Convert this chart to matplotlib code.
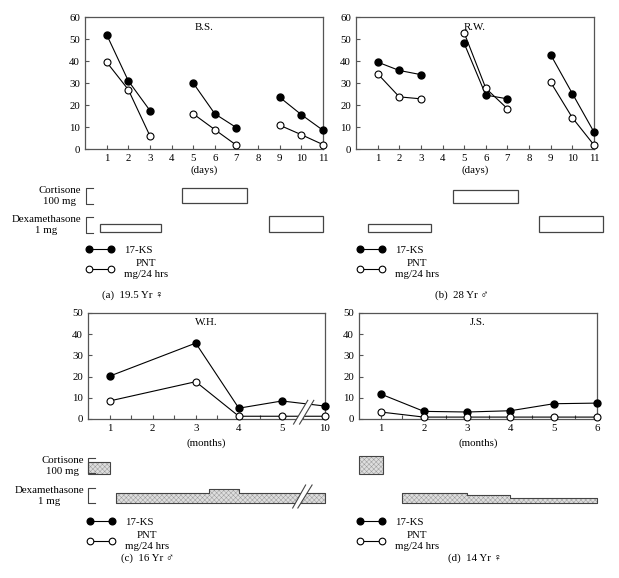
import numpy as np
import matplotlib
matplotlib.use('Agg')
import matplotlib.pyplot as plt
import matplotlib.transforms as mtrans
from matplotlib.patches import Polygon

plt.rcParams['font.family'] = ['Liberation Serif', 'DejaVu Serif']
plt.rcParams['font.size'] = 7.8
plt.rcParams['hatch.linewidth'] = 0.35

W, H = 619, 578
nan = np.nan

# top panels: days 1-11 (no samples on days 4 and 8)
days = np.arange(1, 12)
bs_ks = [52, 31, 17.5, nan, 30, 16, 9.7, nan, 23.5, 15.6, 8.5]
bs_pnt = [39.5, 27, 6, nan, 16, 8.8, 1.7, nan, 10.8, 6.5, 2]
rw_ks = [39.5, 35.7, 33.8, nan, 48, 24.5, 22.8, nan, 42.8, 25.2, 7.7]
rw_pnt = [34.2, 23.7, 22.8, nan, 52.8, 27.6, 18.3, nan, 30.3, 14.2, 1.8]

# bottom panels: months (month 10 of W.H. sits at slot 6, after the break)
month_slots = [1, 2, 3, 4, 5, 6]
wh_labels = ['1', '2', '3', '4', '5', '10']
js_labels = ['1', '2', '3', '4', '5', '6']
wh_x = [1, 3, 4, 5, 6]
wh_ks = [20.2, 35.8, 5.1, 8.5, 6.1]
wh_pnt = [8.5, 17.6, 1.3, 1.3, 1.3]
js_ks = [11.8, 3.6, 3.3, 3.9, 7.2, 7.5]
js_pnt = [3.3, 0.9, 0.9, 0.9, 0.9, 0.9]

# treatment periods (start, end) on the x scale of each panel
bs_cort = [(4.5, 7.5)]
bs_dex = [(0.7, 3.5), (8.5, 11.0)]
rw_cort = [(4.5, 7.5)]
rw_dex = [(0.55, 3.45), (8.45, 11.4)]
wh_cort = [(0.5, 1.0)]
wh_dex_edges = [1.15, 3.3, 4.0, 6.0]
wh_dex_level = [1.0, 1.4, 1.0]
js_cort = [(0.5, 1.05)]
js_dex_edges = [1.5, 3.0, 4.0, 6.0]
js_dex_level = [1.0, 0.8, 0.5]
wh_break = 5.5


def box(l, t, r, b):
    return [l / W, 1 - b / H, (r - l) / W, (b - t) / H]


def fx(x):
    return x / W


def fy(y):
    return 1 - y / H


fig = plt.figure(figsize=(W / 100, H / 100), dpi=100)

spine_c = '#555555'
edge_c = '#444444'
fill_c = '#dedede'
hatch_c = '#9a9a9a'


def style_axes(ax):
    for s in ax.spines.values():
        s.set_color(spine_c)
        s.set_linewidth(0.9)
    ax.tick_params(which='both', direction='in', color=spine_c, width=0.8, pad=3.5,
                   length=3, labelsize=7.8)


def draw_series(ax, x, ks, pnt):
    l1, = ax.plot(x, ks, '-o', color='k', lw=0.8, ms=5, mfc='k', mec='k',
                  clip_on=False, zorder=4)
    l2, = ax.plot(x, pnt, '-o', color='k', lw=0.8, ms=5, mfc='white', mec='k',
                  mew=0.8, clip_on=False, zorder=4)
    return l1, l2


def add_legend(ax, handles, left, top):
    leg = ax.legend(handles, ['17-KS', 'PNT\nmg/24 hrs'], loc='upper left',
                    bbox_to_anchor=(fx(left), fy(top)), bbox_transform=fig.transFigure,
                    frameon=False, numpoints=2, handlelength=2.6, handletextpad=0.9,
                    labelspacing=0.45, borderpad=0, borderaxespad=0, fontsize=7.8)
    for t in leg.get_texts():
        t.set_multialignment('center')
        t.set_linespacing(1.25)
    for h in leg.legend_handles:
        h.set_markersize(4.8)


def bracket(tax, x0, x1, y0, y1):
    tr = mtrans.blended_transform_factory(fig.transFigure, tax.transData)
    tax.plot([fx(x1), fx(x0), fx(x0), fx(x1)], [y1, y1, y0, y0], color=edge_c,
             lw=0.8, transform=tr, clip_on=False)


def drug_labels(right, y_cort, y_dex):
    fig.text(fx(right), fy(y_cort), 'Cortisone\n100 mg', ha='right', va='center',
             multialignment='center', linespacing=1.25)
    fig.text(fx(right), fy(y_dex), 'Dexamethasone\n1 mg', ha='right', va='center',
             multialignment='center', linespacing=1.25)


# ---------- (a) and (b): days ----------
top_panels = [
    (85, 323, 'B.S.', bs_ks, bs_pnt, bs_cort, bs_dex, 15, [8, 16], 133, '(a)  19.5 Yr \u2640'),
    (356, 594, 'R.W.', rw_ks, rw_pnt, rw_cort, rw_dex, 13, [8, 16], 462, '(b)  28 Yr \u2642'),
]
for i, (l, r, name, ks, pnt, cort, dex, cort_h, dex_h, cap_x, cap) in enumerate(top_panels):
    ax = fig.add_axes(box(l, 17, r, 149))
    style_axes(ax)
    ax.set_xlim(0, 11)
    ax.set_ylim(0, 60)
    ax.set_xticks(days)
    ax.set_yticks(np.arange(0, 61, 10))
    ax.set_xlabel('(days)', labelpad=1.5)
    ax.text(0.5, 0.917, name, transform=ax.transAxes, ha='center', va='center')
    handles = draw_series(ax, days, ks, pnt)

    tax = fig.add_axes(box(l, 180, r, 240))
    tax.set_xlim(0, 11)
    tax.set_ylim(0, 60)
    tax.axis('off')
    for (s, e) in cort:
        tax.bar(s, cort_h, width=e - s, bottom=37, align='edge', fill=False,
                edgecolor=edge_c, lw=0.9, clip_on=False)
    for (s, e), h in zip(dex, dex_h):
        tax.bar(s, h, width=e - s, bottom=8, align='edge', fill=False,
                edgecolor=edge_c, lw=0.9, clip_on=False)
    if i == 0:
        bracket(tax, 86, 93, 36, 52)
        bracket(tax, 86, 93, 7, 23)
        drug_labels(81, 196, 225)
    add_legend(ax, handles, l + 1, 245)
    fig.text(fx(cap_x), fy(295), cap, ha='center', va='center')

# ---------- (c) and (d): months ----------
bottom_panels = [
    (88, 325, 'W.H.', wh_x, wh_ks, wh_pnt, wh_labels, wh_cort, 12, wh_dex_edges,
     wh_dex_level, 148, '(c)  16 Yr \u2642'),
    (359, 597, 'J.S.', month_slots, js_ks, js_pnt, js_labels, js_cort, 18, js_dex_edges,
     js_dex_level, 475, '(d)  14 Yr \u2640'),
]
for i, (l, r, name, x, ks, pnt, labels, cort, cort_h, edges, level, cap_x, cap) in enumerate(bottom_panels):
    ax = fig.add_axes(box(l, 313, r, 419))
    style_axes(ax)
    ax.set_xlim(0.5, 6)
    ax.set_ylim(0, 50)
    ax.set_xticks(month_slots)
    ax.set_xticklabels(labels)
    ax.set_xticks(np.arange(1.5, 6, 1), minor=True)
    ax.set_yticks(np.arange(0, 51, 10))
    ax.set_xlabel('(months)', labelpad=4)
    ax.text(0.5, 0.915, name, transform=ax.transAxes, ha='center', va='center')
    handles = draw_series(ax, x, ks, pnt)

    tax = fig.add_axes(box(l, 450, r, 510))
    tax.set_xlim(0.5, 6)
    tax.set_ylim(0, 60)
    tax.axis('off')
    for (s, e) in cort:
        tax.bar(s, cort_h, width=e - s, bottom=36, align='edge', facecolor=fill_c,
                edgecolor=hatch_c, hatch='xxxxxxx', lw=0, clip_on=False)
        tax.bar(s, cort_h, width=e - s, bottom=36, align='edge', fill=False,
                edgecolor=edge_c, lw=0.8, clip_on=False)
    tops = [7 + 10 * v for v in level]
    tops = tops + [tops[-1]]
    tax.fill_between(edges, 7, tops, step='post', facecolor=fill_c,
                     edgecolor=hatch_c, hatch='xxxxxxx', lw=0, clip_on=False)
    tax.fill_between(edges, 7, tops, step='post', facecolor='none',
                     edgecolor=edge_c, lw=0.8, clip_on=False)

    if i == 0:
        bracket(tax, 88, 95, 37, 52)
        bracket(tax, 88, 95, 7, 22)
        drug_labels(84, 466, 496)
        # axis break on the time scale
        b = wh_break
        ax.add_patch(Polygon([(b - 0.23, -2.4), (b - 0.09, -2.4), (b + 0.24, 8.8), (b + 0.1, 8.8)],
                             closed=True, fc='white', ec='none', clip_on=False, zorder=6))
        ax.plot([b - 0.23, b + 0.1], [-2.4, 8.8], color=edge_c, lw=0.8, clip_on=False, zorder=7)
        ax.plot([b - 0.09, b + 0.24], [-2.4, 8.8], color=edge_c, lw=0.8, clip_on=False, zorder=7)
        tax.add_patch(Polygon([(b - 0.25, 2), (b - 0.13, 2), (b + 0.2, 25), (b + 0.05, 25)],
                              closed=True, fc='white', ec='none', clip_on=False, zorder=6))
        tax.plot([b - 0.25, b + 0.05], [2, 25], color=edge_c, lw=0.8, clip_on=False, zorder=7)
        tax.plot([b - 0.13, b + 0.2], [2, 25], color=edge_c, lw=0.8, clip_on=False, zorder=7)
    add_legend(ax, handles, l - 1 if i == 0 else l - 2, 517)
    fig.text(fx(cap_x), fy(558), cap, ha='center', va='center')

fig.savefig('out.png', dpi=100)
